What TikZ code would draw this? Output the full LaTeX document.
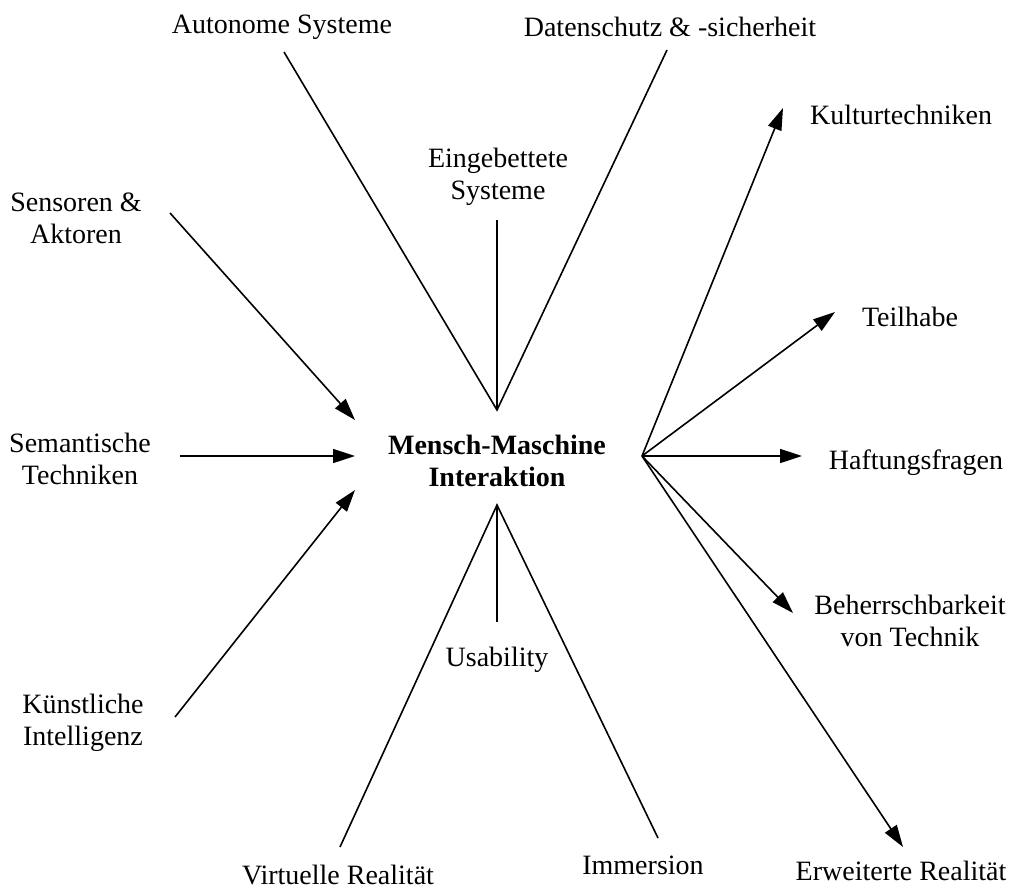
\documentclass[tikz,border=0pt]{standalone}
\usepackage{fontspec}
\setmainfont{Liberation Serif}
\usetikzlibrary{arrows.meta}
\begin{document}
\begin{tikzpicture}[x=0.5pt,y=-0.5pt,
  lbl/.style={font=\fontsize{14}{16}\selectfont, align=center, inner sep=0pt, yshift=-1.5pt},
  hub/.style={font=\fontsize{14}{16}\selectfont\bfseries, align=center, inner sep=0pt, yshift=-1pt},
  conn/.style={line width=0.8pt, black},
  arr/.style={conn, -{Triangle[length=11pt,width=7pt]}}]
\useasboundingbox (0,0) rectangle (1021,889);
% text nodes
\node[lbl] (auto) at (282,24) {Autonome Systeme};
\node[lbl] (daten) at (670,24) {Datenschutz \& -sicherheit};
\node[lbl] (eing) at (498,174) {Eingebettete\\Systeme};
\node[lbl] (sens) at (76,215) {Sensoren \&\\Aktoren};
\node[lbl] (sem) at (80,456) {Semantische\\Techniken};
\node[lbl] (kuen) at (83,720) {Künstliche\\Intelligenz};
\node[hub] (mmi) at (497,459) {Mensch-Maschine\\Interaktion};
\node[lbl] (kult) at (901,112) {Kulturtechniken};
\node[lbl] (teil) at (910,314) {Teilhabe};
\node[lbl] (haft) at (916,460) {Haftungsfragen};
\node[lbl] (beh) at (910,618) {Beherrschbarkeit\\von Technik};
\node[lbl] (erw) at (901,868) {Erweiterte Realität};
\node[lbl] (imm) at (643,862) {Immersion};
\node[lbl] (virt) at (338,872) {Virtuelle Realität};
\node[lbl] (usa) at (497,657) {Usability};
% connector end points
\coordinate (top) at (497,410);
\coordinate (bot) at (497,505);
\coordinate (right) at (642,456);
\coordinate (autoE) at (284,52);
\coordinate (datenE) at (667,50);
\coordinate (eingE) at (497,220);
\coordinate (sensS) at (170,213);
\coordinate (sensT) at (355,420);
\coordinate (semS) at (180,456);
\coordinate (semT) at (355,456);
\coordinate (kuenS) at (175,717);
\coordinate (kuenT) at (355,490);
\coordinate (virtE) at (340,847);
\coordinate (usaE) at (497,622);
\coordinate (immE) at (658,838);
\coordinate (kultT) at (783,108);
\coordinate (teilT) at (835,312);
\coordinate (haftT) at (802,456);
\coordinate (behT) at (793,613);
\coordinate (erwT) at (903,847);
% connectors
\draw[conn] (autoE) -- (top) -- (datenE);
\draw[conn] (eingE) -- (top);
\draw[arr] (sensS) -- (sensT);
\draw[arr] (semS) -- (semT);
\draw[arr] (kuenS) -- (kuenT);
\draw[conn] (virtE) -- (bot) -- (immE);
\draw[conn] (usaE) -- (bot);
\draw[arr] (right) -- (kultT);
\draw[arr] (right) -- (teilT);
\draw[arr] (right) -- (haftT);
\draw[arr] (right) -- (behT);
\draw[arr] (right) -- (erwT);
\end{tikzpicture}
\end{document}
